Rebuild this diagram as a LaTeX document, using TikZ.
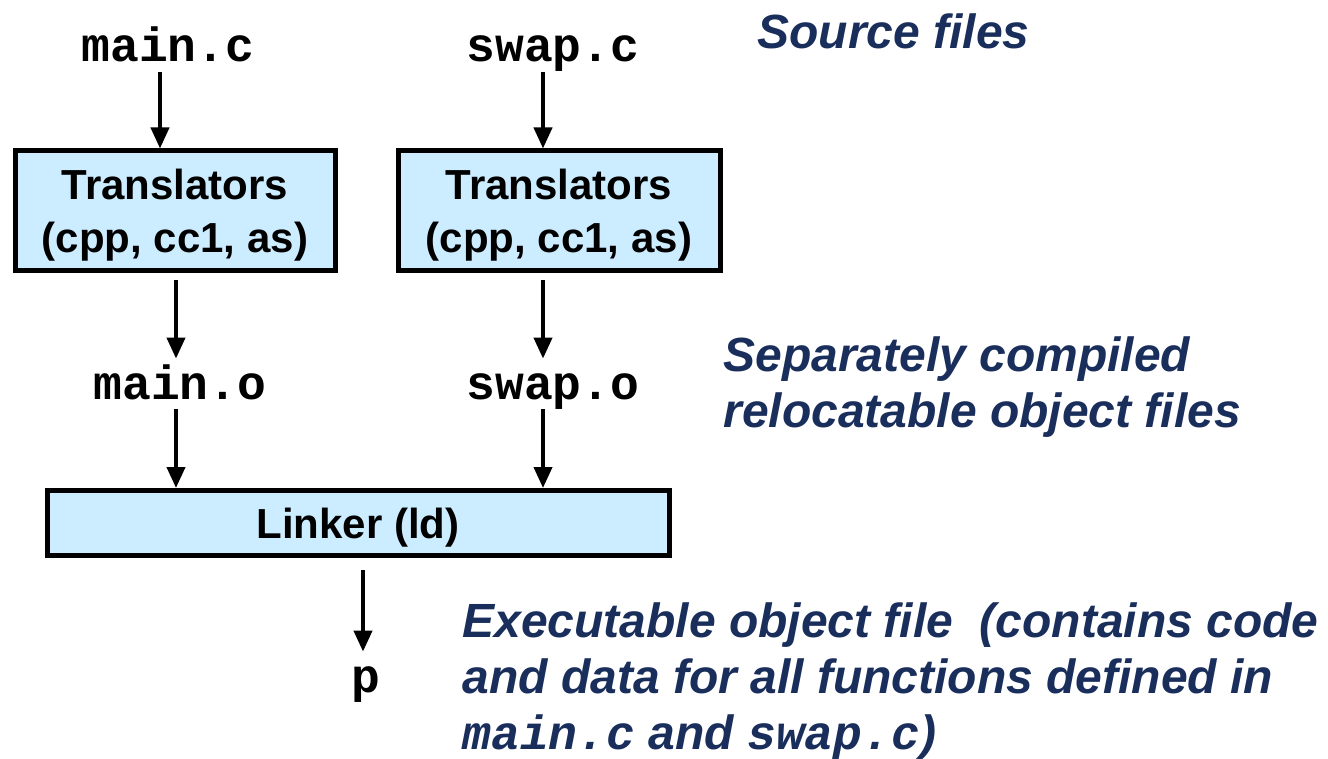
\documentclass[tikz,border=0pt]{standalone}
\usepackage{fontspec}
\setmainfont{Liberation Sans}
\setmonofont{Liberation Mono}
\usepackage{tikz}
\usetikzlibrary{arrows.meta, positioning}
\definecolor{myblue}{HTML}{CCECFF}
\definecolor{mynavy}{HTML}{1A2E5C}
\tikzset{
	boxnode/.style={
			draw=black,
			line width=2.5pt,
			fill=myblue,
			font=\fontsize{21}{26.5}\selectfont\bfseries,
			align=center,
			text depth=0pt,
			inner sep=0pt
		},
	filenode/.style={
			font=\fontsize{24}{28}\selectfont\ttfamily\bfseries,
			text height=16pt,
			text depth=1pt,
			inner sep=4pt
		},
	labelnode/.style={
			font=\fontsize{24}{28}\selectfont\bfseries\itshape,
			text=mynavy,
			align=left,
			anchor=base west,
			inner sep=0pt
		},
	arrowline/.style={
			line width=2pt,
			-{Triangle[width=9pt,length=10.5pt]}
		}
}

\begin{document}
\begin{tikzpicture}[x=0.5pt, y=-0.5pt]
\useasboundingbox (0,0) rectangle (1328,759);

\node[filenode] (mainc) at (168,47) {main.c};
\node[filenode] (swapc) at (553,47) {swap.c};
\node[boxnode, minimum width=160pt, minimum height=60pt] (tr1) at (175,211) {Translators\\(cpp, cc1, as)};
\node[boxnode, minimum width=161pt, minimum height=60pt] (tr2) at (559,211) {Translators\\(cpp, cc1, as)};
\node[filenode] (maino) at (180,384) {main.o};
\node[filenode] (swapo) at (553,384) {swap.o};
\node[boxnode, minimum width=311pt, minimum height=32.5pt] (ld) at (358,523) {Linker (ld)};
\node[filenode] (p) at (366,677) {p};

\draw[arrowline] ([xshift=-4pt]mainc.south) -- ([xshift=-4pt]mainc.south |- tr1.north);
\draw[arrowline] ([xshift=-5pt]swapc.south) -- ([xshift=-5pt]swapc.south |- tr2.north);
\draw[arrowline, shorten <=3.5pt] ([xshift=-2pt]tr1.south -| maino) -- ([xshift=-2pt]maino.north);
\draw[arrowline, shorten <=3.5pt] ([xshift=-5pt]tr2.south -| swapo) -- ([xshift=-5pt]swapo.north);
\draw[arrowline] ([xshift=-2pt]maino.south) -- ([xshift=-2pt]maino.south |- ld.north);
\draw[arrowline] ([xshift=-5pt]swapo.south) -- ([xshift=-5pt]swapo.south |- ld.north);
\draw[arrowline, shorten <=6pt] ([xshift=-1.5pt]ld.south -| p) -- ([xshift=-1.5pt]p.north);

\node[labelnode] (srclbl) at (757,49) {Source files};
\node[labelnode] (objlbl) at (723,427) {Separately compiled\\relocatable object files};
\node[labelnode] (exelbl) at (462,749) {Executable object file \ (contains code\\and data for all functions defined in\\{\ttfamily main.c} and {\ttfamily swap.c})};

\end{tikzpicture}
\end{document}
